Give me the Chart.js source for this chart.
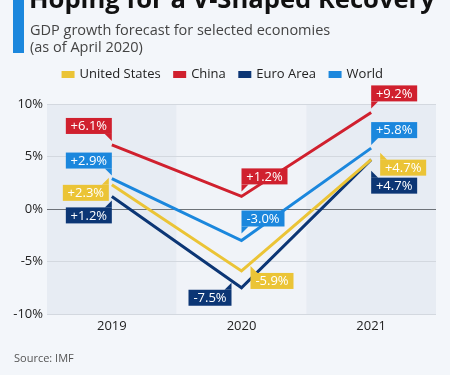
<!DOCTYPE html>
<html>
<head>
<meta charset="utf-8">
<script src="https://cdn.jsdelivr.net/npm/chart.js@4"></script>
<style>
  html, body { margin: 0; padding: 0; background: #f3f6fa; }
  #wrap { position: relative; width: 450px; height: 375px; overflow: hidden; font-family: "Open Sans", sans-serif; }
  #bar { position: absolute; left: 13px; top: 0; width: 11px; height: 53px; background: #1b87dd; }
  #title { position: absolute; left: 29px; top: -19px; font-size: 25.6px; font-weight: 700; color: #111; white-space: nowrap; }
  #sub { position: absolute; left: 30px; top: 21px; font-size: 14.5px; line-height: 17px; color: #444; }
  #source { position: absolute; left: 14px; top: 350px; font-size: 11px; color: #555; }
  #chart { position: absolute; left: 0; top: 0; }
</style>
</head>
<body>
<div id="wrap">
  <canvas id="chart" width="450" height="375"></canvas>
  <div id="bar"></div>
  <div id="title">Hoping for a V-Shaped Recovery</div>
  <div id="sub">GDP growth forecast for selected economies<br>(as of April 2020)</div>
  <div id="source">Source: IMF</div>
</div>
<script>
// Veriler (IMF, Nisan 2020)
const years = ['2019', '2020', '2021'];
const seriesNames = ['United States', 'China', 'Euro Area', 'World'];
const usData = [2.3, -5.9, 4.7];
const chinaData = [6.1, 1.2, 9.2];
const euroData = [1.2, -7.5, 4.7];
const worldData = [2.9, -3.0, 5.8];
const yTicks = [-10, -5, 0, 5, 10];

// Renkler
const colors = ['#ebc436', '#d0202e', '#0c3675', '#1b87dd'];

// Etiket yerleşimi: kutunun noktaya göre konumu
const labelPlacement = [
    [{dx: -3, dy: 0, ax: 'right', ay: 'top'}, {dx: 9, dy: 2, ax: 'left', ay: 'top'}, {dx: 9, dy: 0, ax: 'left', ay: 'top'}],
    [{dx: 0, dy: -11, ax: 'right', ay: 'bottom'}, {dx: 0, dy: -12, ax: 'left', ay: 'bottom'}, {dx: 0, dy: -11, ax: 'left', ay: 'bottom'}],
    [{dx: 0, dy: 11, ax: 'right', ay: 'top'}, {dx: -10, dy: 2, ax: 'right', ay: 'top'}, {dx: 0, dy: 18, ax: 'left', ay: 'top'}],
    [{dx: 0, dy: -10, ax: 'right', ay: 'bottom'}, {dx: 0, dy: -14, ax: 'left', ay: 'bottom'}, {dx: 0, dy: -10, ax: 'left', ay: 'bottom'}]
];

function fmt(v) {
    return (v > 0 ? '+' : '') + v.toFixed(1) + '%';
}

// Arka plan bantları
const bandsPlugin = {
    id: 'bands',
    beforeDraw(chart) {
        const {ctx, chartArea, scales} = chart;
        const x = scales.x;
        const step = x.getPixelForValue(1) - x.getPixelForValue(0);
        ctx.save();
        years.forEach((y, i) => {
            const cx = x.getPixelForValue(i);
            ctx.fillStyle = i % 2 === 0 ? '#e7ecf3' : '#f0f3f8';
            ctx.fillRect(cx - step / 2, chartArea.top, step, chartArea.bottom - chartArea.top);
        });
        ctx.restore();
    }
};

// Değer etiketleri
const labelsPlugin = {
    id: 'valueLabels',
    afterDatasetsDraw(chart) {
        const ctx = chart.ctx;
        ctx.save();
        ctx.font = '13px "Open Sans", sans-serif';
        ctx.textBaseline = 'middle';
        ctx.textAlign = 'center';
        chart.data.datasets.forEach((ds, di) => {
            const meta = chart.getDatasetMeta(di);
            meta.data.forEach((pt, i) => {
                const p = labelPlacement[di][i];
                const text = fmt(ds.data[i]);
                const w = Math.round(ctx.measureText(text).width) + 10;
                const h = 16;
                const l = p.ax === 'right' ? pt.x + p.dx - w : pt.x + p.dx;
                const t = p.ay === 'bottom' ? pt.y + p.dy - h : pt.y + p.dy;
                ctx.fillStyle = ds.borderColor;
                ctx.fillRect(l, t, w, h);
                // kuyruk
                const cx = p.ax === 'right' ? l + w : l;
                const cy = p.ay === 'bottom' ? t + h : t;
                const sx = p.ax === 'right' ? -7 : 7;
                const sy = p.ay === 'bottom' ? 7 : -7;
                ctx.beginPath();
                ctx.moveTo(cx, cy);
                ctx.lineTo(cx + sx, cy);
                ctx.lineTo(cx, cy + sy);
                ctx.closePath();
                ctx.fill();
                ctx.fillStyle = '#ffffff';
                ctx.fillText(text, l + w / 2, t + h / 2 + 0.5);
            });
        });
        ctx.restore();
    }
};

// Lejant ile grafik arası boşluk
const legendGap = {
    id: 'legendGap',
    beforeInit(chart) {
        const origFit = chart.legend.fit;
        chart.legend.fit = function () {
            origFit.bind(this)();
            this.height += 13;
        };
    }
};

const allData = [usData, chinaData, euroData, worldData];

new Chart(document.getElementById('chart'), {
    type: 'line',
    data: {
        labels: years,
        datasets: allData.map((d, i) => ({
            label: seriesNames[i],
            data: d,
            borderColor: colors[i],
            backgroundColor: colors[i],
            borderWidth: 3,
            pointRadius: 0,
            tension: 0
        }))
    },
    options: {
        responsive: false,
        animation: false,
        layout: {
            padding: {top: 54, left: 10, right: 14, bottom: 37}
        },
        plugins: {
            tooltip: {enabled: false},
            legend: {
                position: 'top',
                labels: {
                    boxWidth: 10,
                    boxHeight: 4,
                    padding: 14,
                    color: '#222',
                    font: {size: 13, family: '"Open Sans", sans-serif'}
                }
            }
        },
        scales: {
            x: {
                offset: true,
                grid: {display: false, drawTicks: false},
                border: {display: false},
                ticks: {
                    color: '#222',
                    padding: 4,
                    font: {size: 13, family: '"Open Sans", sans-serif'}
                },
                afterFit(scale) { scale.height = 24; }
            },
            y: {
                min: -10,
                max: 10,
                afterBuildTicks(scale) { scale.ticks = yTicks.map(v => ({value: v})); },
                grid: {
                    drawTicks: false,
                    color: c => c.tick && c.tick.value === 0 ? '#6d7278' : '#d3d8df'
                },
                border: {display: false},
                ticks: {
                    color: '#222',
                    padding: 4,
                    font: {size: 13, family: '"Open Sans", sans-serif'},
                    callback: v => v + '%'
                },
                afterFit(scale) { scale.width = 37; }
            }
        }
    },
    plugins: [bandsPlugin, labelsPlugin, legendGap]
});
</script>
</body>
</html>
